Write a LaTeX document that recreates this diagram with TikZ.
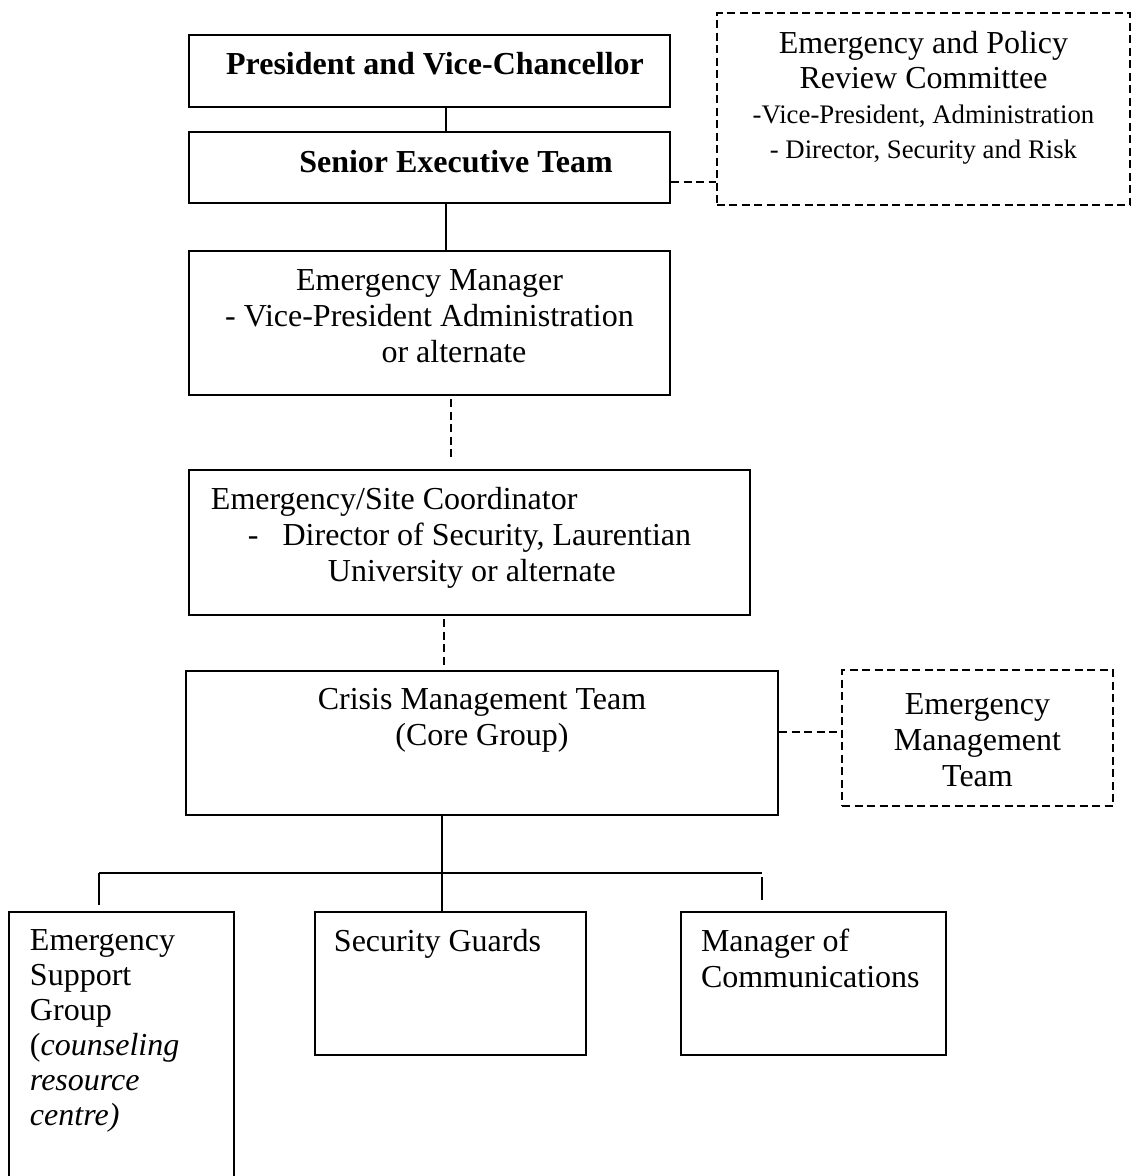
\documentclass[tikz,border=0pt]{standalone}
\usepackage{fontspec}
\setmainfont{Liberation Serif}
\tikzset{
  box/.style={draw, line width=0.8pt, inner sep=0pt, font=\fontsize{12.8}{14.4}\selectfont},
  dashbox/.style={box, dash pattern=on 3.2pt off 1.8pt},
  link/.style={line width=0.7pt},
  dashlink/.style={link, dash pattern=on 3.2pt off 1.8pt}
}
\begin{document}
\begin{tikzpicture}[x=0.4pt,y=-0.4pt]
  \useasboundingbox (0,0) rectangle (1137,1176);
  \clip (0,0) rectangle (1137,1176);
  % chain of command
  \node[box] (pres) at (429.5,71) {\parbox[c][28.8pt][t]{192.4pt}{\centering\vspace*{5.9pt}\strut\hspace*{4.4pt}\textbf{President and Vice-Chancellor}}};
  \node[box] (set) at (429.5,167.5) {\parbox[c][28.4pt][t]{192.4pt}{\centering\vspace*{6.3pt}\strut\hspace*{21.2pt}\textbf{Senior Executive Team}}};
  \node[dashbox] (erc) at (923.5,109) {\parbox[c][76.8pt][t]{165.2pt}{\centering\fontsize{12.8}{14}\selectfont\vspace*{6.2pt}\strut Emergency and Policy\\ Review Committee\\ {\fontsize{10.7}{14}\selectfont -Vice-President, Administration\\ - Director, Security and Risk}}};
  \node[box] (emgr) at (429.5,323) {\parbox[c][57.6pt][t]{192.4pt}{\centering\vspace*{5.9pt}\strut Emergency Manager\\ - Vice-President Administration\\ \hspace*{19.6pt}or alternate}};
  \node[box] (site) at (469.5,542.5) {\parbox[c][58pt][t]{224.4pt}{\raggedright\vspace*{5.9pt}\strut\hspace*{8.8pt}Emergency/Site Coordinator\\ \hspace*{23.6pt}-\hspace*{9.6pt}Director of Security, Laurentian\\ \hspace*{55.6pt}University or alternate}};
  \node[box] (crisis) at (482,743) {\parbox[c][57.6pt][t]{236.8pt}{\centering\vspace*{5.5pt}\strut Crisis Management Team\\ (Core Group)}};
  \node[dashbox] (emt) at (977.5,738) {\parbox[c][54.4pt][t]{108.4pt}{\centering\vspace*{7.9pt}\strut Emergency\\ Management\\ Team}};
  % response groups
  \node[box] (esg) at (121.5,1056) {\parbox[c][115.2pt][t]{90pt}{\raggedright\fontsize{12.8}{14}\selectfont\leftskip=8.4pt\vspace*{5.4pt}\strut Emergency\\ Support\\ Group\\ (\textit{counseling}\\ \textit{resource}\\ \textit{centre)}}};
  \node[box] (sg) at (450.5,983.5) {\parbox[c][57.2pt][t]{108.4pt}{\raggedright\leftskip=7.6pt\vspace*{5.9pt}\strut Security Guards}};
  \node[box] (mc) at (813.5,983.5) {\parbox[c][57.2pt][t]{106pt}{\raggedright\leftskip=8pt\vspace*{5.9pt}\strut Manager of\\ Communications}};
  % connectors
  \draw[link] ([xshift=6.6pt]pres.south) -- ([xshift=6.6pt]set.north);
  \draw[link] ([xshift=6.6pt]set.south) -- ([xshift=6.6pt]emgr.north);
  \draw[dashlink] ([yshift=-5.8pt]set.east) -- ([yshift=-5.8pt]set.east -| erc.west);
  \draw[dashlink] ([xshift=8.6pt,yshift=-1.2pt]emgr.south) -- ++(0,58);
  \draw[dashlink] ([xshift=-10.2pt,yshift=-1.2pt]site.south) -- ++(0,50);
  \draw[dashlink] ([yshift=4.4pt]crisis.east) -- ([yshift=4.4pt]crisis.east -| emt.west);
  \draw[link] ([xshift=-16pt]crisis.south) -- ([xshift=-16pt]crisis.south |- sg.north);
  \coordinate (lft) at (99,873);
  \coordinate (rgt) at (762,873);
  \draw[link] (lft) -- (rgt);
  \draw[link] (lft) -- ([yshift=2.4pt]lft |- esg.north);
  \draw[link] ([yshift=-1.6pt]rgt) -- ([yshift=4.4pt]rgt |- mc.north);
\end{tikzpicture}
\end{document}
